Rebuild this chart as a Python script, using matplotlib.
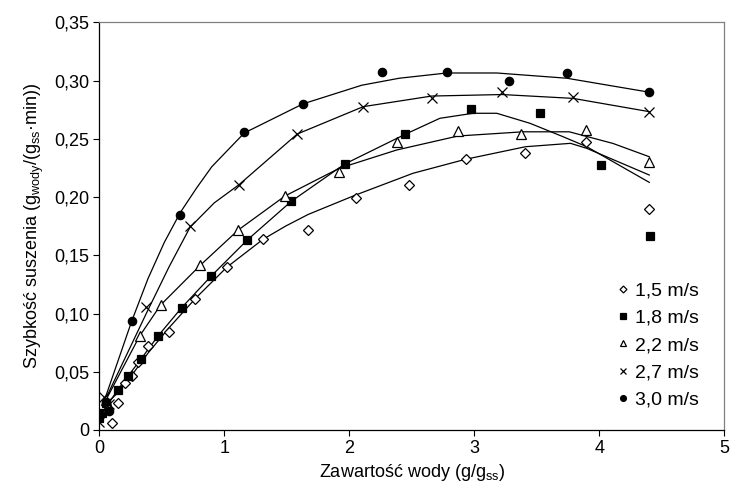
import matplotlib
matplotlib.use("Agg")
import matplotlib.pyplot as plt

plt.rcParams['font.family'] = ['Liberation Sans', 'DejaVu Sans']
plt.rcParams['mathtext.default'] = 'regular'

# pomiary (zawartosc wody, szybkosc suszenia)
x_15 = [0.104, 0.147, 0.206, 0.259, 0.307, 0.387, 0.558, 0.766, 1.024, 1.312, 1.667, 2.051, 2.475, 2.931, 3.406, 3.894, 4.40]
y_15 = [0.0063, 0.0229, 0.0401, 0.0466, 0.0587, 0.0721, 0.0839, 0.1125, 0.1397, 0.1637, 0.1717, 0.1994, 0.2103, 0.2324, 0.238, 0.2475, 0.190]

x_18 = [0.0, 0.02, 0.05, 0.147, 0.232, 0.336, 0.47, 0.659, 0.896, 1.184, 1.536, 1.963, 2.446, 2.976, 3.526, 4.014, 4.406]
y_18 = [0.0105, 0.0143, 0.023, 0.0343, 0.0466, 0.0612, 0.0807, 0.105, 0.1322, 0.1631, 0.1963, 0.2283, 0.2538, 0.2753, 0.2719, 0.2272, 0.1668]

x_22 = [0.05, 0.07, 0.323, 0.491, 0.808, 1.112, 1.486, 1.915, 2.379, 2.87, 3.376, 3.894, 4.40]
y_22 = [0.026, 0.020, 0.0807, 0.1073, 0.1414, 0.1717, 0.2009, 0.2215, 0.247, 0.2564, 0.2538, 0.2575, 0.2298]

x_27 = [0.0, 0.04, 0.08, 0.376, 0.726, 1.118, 1.584, 2.112, 2.659, 3.222, 3.79, 4.40]
y_27 = [0.007, 0.028, 0.022, 0.1053, 0.1751, 0.2106, 0.2541, 0.2776, 0.2848, 0.2902, 0.2862, 0.2733]

x_30 = [0.05, 0.08, 0.259, 0.648, 1.16, 1.63, 2.264, 2.779, 3.278, 3.744, 4.398]
y_30 = [0.024, 0.016, 0.0936, 0.185, 0.2556, 0.280, 0.307, 0.307, 0.2994, 0.3062, 0.2899]

# krzywe modelu
fx_15 = [0.03, 0.15, 0.26, 0.39, 0.56, 0.77, 1.02, 1.31, 1.49, 1.67, 2.05, 2.51, 2.93, 3.41, 3.77, 3.90, 4.40]
fy_15 = [0.020, 0.032, 0.047, 0.066, 0.088, 0.113, 0.1397, 0.1637, 0.175, 0.185, 0.2017, 0.2204, 0.2324, 0.2432, 0.2461, 0.2418, 0.2189]

fx_18 = [0.0, 0.02, 0.147, 0.232, 0.336, 0.47, 0.659, 0.896, 1.184, 1.536, 1.963, 2.446, 2.725, 2.99, 3.18, 3.446, 3.71, 3.90, 4.40]
fy_18 = [0.0114, 0.0143, 0.0343, 0.0466, 0.0612, 0.0807, 0.105, 0.1322, 0.1631, 0.1963, 0.2283, 0.2538, 0.2676, 0.2719, 0.2719, 0.2633, 0.2518, 0.2432, 0.2126]

fx_22 = [0.03, 0.323, 0.491, 0.808, 1.112, 1.486, 1.92, 2.38, 2.87, 3.39, 3.76, 4.11, 4.40]
fy_22 = [0.021, 0.0807, 0.1073, 0.1414, 0.1717, 0.2009, 0.2247, 0.2404, 0.2524, 0.256, 0.256, 0.246, 0.2346]

fx_27 = [0.03, 0.376, 0.558, 0.726, 0.92, 1.118, 1.584, 2.112, 2.659, 3.222, 3.79, 4.40]
fy_27 = [0.022, 0.100, 0.140, 0.174, 0.195, 0.2106, 0.2541, 0.2776, 0.2867, 0.288, 0.2847, 0.2733]

fx_30 = [0.03, 0.26, 0.39, 0.52, 0.65, 0.78, 0.9, 1.16, 1.63, 2.1, 2.4, 2.78, 3.18, 3.74, 4.40]
fy_30 = [0.022, 0.0936, 0.13, 0.161, 0.187, 0.208, 0.226, 0.255, 0.280, 0.296, 0.302, 0.3065, 0.3065, 0.302, 0.290]

labels = ['1,5 m/s', '1,8 m/s', '2,2 m/s', '2,7 m/s', '3,0 m/s']
y_ticks = [0, 0.05, 0.10, 0.15, 0.20, 0.25, 0.30, 0.35]
y_tick_labels = ['0', '0,05', '0,10', '0,15', '0,20', '0,25', '0,30', '0,35']
x_ticks = [0, 1, 2, 3, 4, 5]

fig = plt.figure(figsize=(7.31, 4.96), dpi=100)
ax = fig.add_axes([0.1358, 0.1331, 0.855, 0.8219])

# styl markerow: (marker, rozmiar, wypelnienie)
styles = [('D', 5, 'white'), ('s', 6, 'black'), ('^', 7, 'white'), ('x', 7, 'none'), ('o', 6, 'black')]
points = [(x_15, y_15), (x_18, y_18), (x_22, y_22), (x_27, y_27), (x_30, y_30)]
fits = [(fx_15, fy_15), (fx_18, fy_18), (fx_22, fy_22), (fx_27, fy_27), (fx_30, fy_30)]

for (fx, fy) in fits:
    ax.plot(fx, fy, color='black', lw=0.9, zorder=2)

for (px, py), (m, ms, fc), lab in zip(points, styles, labels):
    ax.plot(px, py, ls='none', marker=m, ms=ms, mfc=fc, mec='black',
            mew=0.9, label=lab, zorder=3)

ax.set_xlim(0, 5)
ax.set_ylim(0, 0.35)
ax.set_xticks(x_ticks)
ax.set_yticks(y_ticks)
ax.set_yticklabels(y_tick_labels)
ax.tick_params(direction='out', length=4, width=0.8, labelsize=13, pad=3)

for side in ['top', 'right']:
    ax.spines[side].set_color('#808080')
for side in ['left', 'bottom']:
    ax.spines[side].set_color('black')
for s in ax.spines.values():
    s.set_linewidth(0.9)

ax.set_xlabel('Zawartość wody (g/g$_{ss}$)', fontsize=13, labelpad=4)
ax.set_ylabel('Szybkość suszenia (g$_{wody}$/(g$_{ss}$·min))', fontsize=13, labelpad=6)

ax.legend(loc='center', bbox_to_anchor=(0.894, 0.2075), frameon=False, fontsize=14,
          markerscale=0.7, handlelength=0.6, handletextpad=0.3, labelspacing=0.5,
          borderpad=0.2)

fig.savefig('out.png', dpi=100)
